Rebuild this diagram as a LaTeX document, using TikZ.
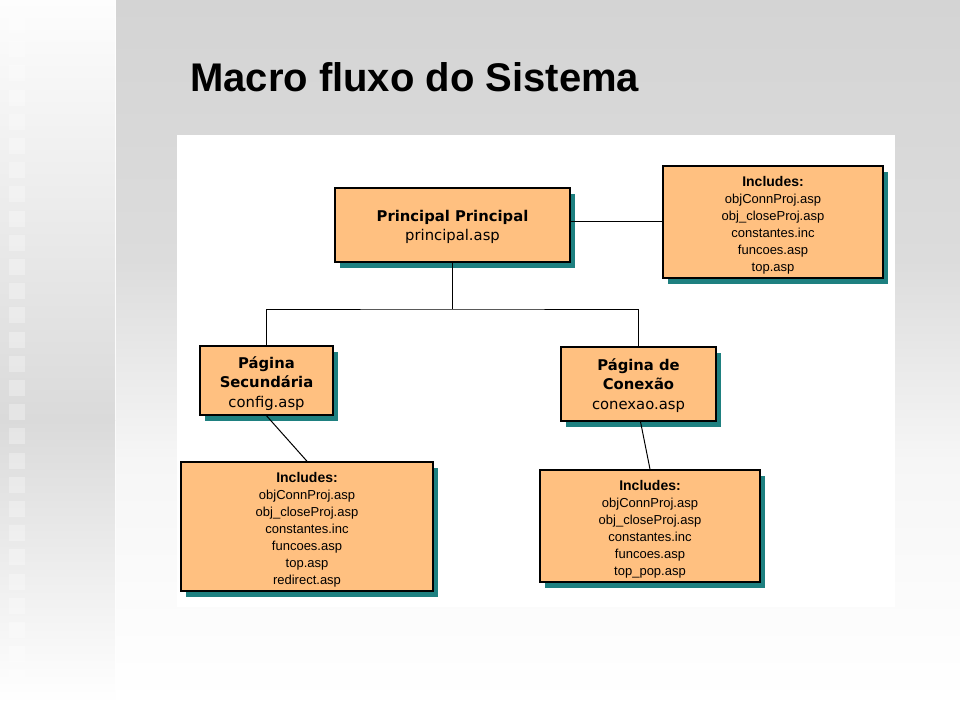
\documentclass[tikz,border=0pt]{standalone}
\usepackage{fontspec}
\setmainfont{Liberation Sans}
\newfontfamily\labelfont{DejaVu Sans}
\usetikzlibrary{shadows,calc}
\definecolor{boxfill}{RGB}{255,192,128}
\definecolor{boxshadow}{RGB}{30,128,128}
\definecolor{panelTop}{RGB}{212,212,212}
\definecolor{panelMid}{RGB}{220,220,220}
\definecolor{panelLow}{RGB}{246,246,246}
\definecolor{stripMid}{RGB}{218,218,218}
\definecolor{stripTop}{RGB}{253,253,253}
\begin{document}
\begin{tikzpicture}[x=1pt,y=-1pt,
  flowbox/.style={draw=black,line width=1.5pt,fill=boxfill,inner sep=0pt,
    drop shadow={shadow xshift=5pt,shadow yshift=-6pt,fill=boxshadow,opacity=1}},
  boxtext/.style={align=center,inner sep=0pt,yshift=-3pt},
  mainfont/.style={font=\labelfont\fontsize{14.8}{19}\selectfont},
  incfont/.style={font=\fontsize{13}{17}\selectfont},
  link/.style={draw=black,line width=1pt},
  sq/.style={fill=white,opacity=0.3}]
\useasboundingbox (0,0) rectangle (960,703);
% background
\fill[white] (0,0) rectangle (960,703);
\shade[top color=stripTop,bottom color=stripMid] (0,0) rectangle (115,420);
\shade[top color=stripMid,bottom color=white] (0,420) rectangle (115,703);
\foreach \k in {0,...,28} {\fill[sq] (9,{17+24.2*\k}) rectangle (25,{33+24.2*\k});}
\shade[top color=panelTop,bottom color=panelMid] (116,0) rectangle (960,260);
\shade[top color=panelMid,bottom color=panelLow] (116,260) rectangle (960,460);
\shade[top color=panelLow,bottom color=white] (116,460) rectangle (960,703);
\fill[white] (177,135) rectangle (895,607);
% title
\node[anchor=base west,inner sep=0pt,font=\bfseries\fontsize{40}{48}\selectfont] (title) at (190,92) {Macro fluxo do Sistema};
% boxes
\node[flowbox,minimum width=235pt,minimum height=74pt,
  label={[boxtext,mainfont,yshift=1.5pt]center:{\textbf{Principal Principal}\\principal.asp}}] (prin) at (452.5,225) {};
\node[flowbox,minimum width=220pt,minimum height=112pt,
  label={[boxtext,incfont,yshift=-0.5pt]center:{{\fontsize{14}{17}\selectfont\textbf{Includes:}}\\objConnProj.asp\\obj\_closeProj.asp\\constantes.inc\\funcoes.asp\\top.asp}}] (incA) at (773,222) {};
\node[flowbox,minimum width=133pt,minimum height=69pt,
  label={[boxtext,mainfont]center:{\textbf{Página}\\\textbf{Secundária}\\[1pt]config.asp}}] (sec) at (266.5,380.5) {};
\node[flowbox,minimum width=155pt,minimum height=74pt,
  label={[boxtext,mainfont,yshift=1.5pt]center:{\textbf{Página de}\\\textbf{Conexão}\\[1pt]conexao.asp}}] (con) at (638.5,384) {};
\node[flowbox,minimum width=252pt,minimum height=129pt,
  label={[boxtext,incfont]center:{{\fontsize{14}{17}\selectfont\textbf{Includes:}}\\objConnProj.asp\\obj\_closeProj.asp\\constantes.inc\\funcoes.asp\\top.asp\\redirect.asp}}] (incB) at (307,526.5) {};
\node[flowbox,minimum width=220pt,minimum height=112pt,
  label={[boxtext,incfont]center:{{\fontsize{14}{17}\selectfont\textbf{Includes:}}\\objConnProj.asp\\obj\_closeProj.asp\\constantes.inc\\funcoes.asp\\top\_pop.asp}}] (incC) at (650,526) {};
% connectors
\coordinate (bus) at (452.5,309);
\draw[link] (prin.east |- incA.west) -- (incA.west);
\draw[link] (prin.south) -- (bus);
\draw[link] (sec.north) |- (bus) -| (con.north);
\draw[link] (sec.south) -- (incB.north);
\draw[link] ($(con.south)+(2,0)$) -- (incC.north);
\end{tikzpicture}
\end{document}
